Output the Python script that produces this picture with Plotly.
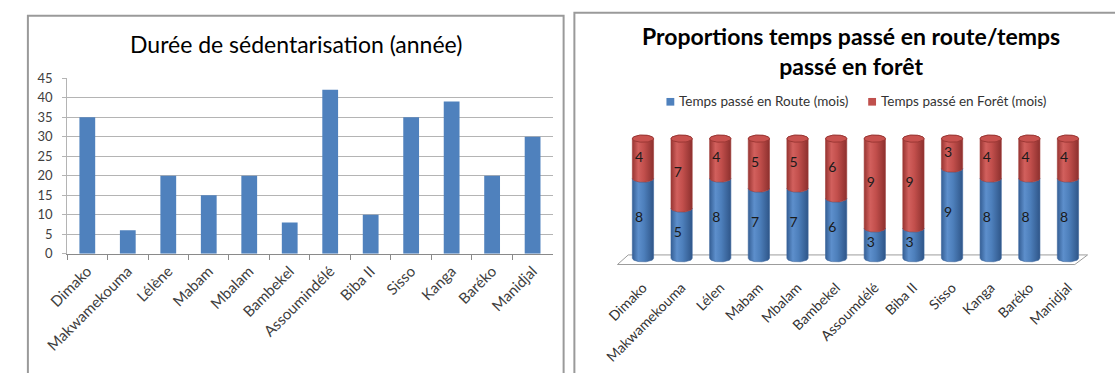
import numpy as np
import plotly.graph_objects as go

# ---- data -------------------------------------------------------------
villages_left = ["Dimako", "Makwamekouma", "Lélène", "Mabam", "Mbalam", "Bambekel",
                 "Assoumindélé", "Biba II", "Sisso", "Kanga", "Baréko", "Manidjal"]
duree_sedentarisation = [35, 6, 20, 15, 20, 8, 42, 10, 35, 39, 20, 30]

villages_right = ["Dimako", "Makwamekouma", "Lélen", "Mabam", "Mbalam", "Bambekel",
                  "Assoumdélé", "Biba II", "Sisso", "Kanga", "Baréko", "Manidjal"]
temps_route = [8, 5, 8, 7, 7, 6, 3, 3, 9, 8, 8, 8]
temps_foret = [4, 7, 4, 5, 5, 6, 9, 9, 3, 4, 4, 4]

W, H = 1115, 373
FONT = "Lato"


def px(x):
    return x / W


def py(y):
    return 1 - y / H


fig = go.Figure()

# ---- left chart: simple bar chart ---------------------------------------
fig.add_trace(go.Bar(
    x=villages_left, y=duree_sedentarisation, width=0.39,
    marker=dict(color="#4f81bd", line=dict(width=0)),
    xaxis="x", yaxis="y", showlegend=False, hoverinfo="x+y",
))

# ---- right chart: 100 % stacked cylinders ------------------------------
RX = 0.275          # cylinder half width (x units)
RY = 3.0            # ellipse half height (y units)
blue_scale = [[0, "#355f95"], [0.28, "#5d8fcc"], [0.55, "#4d7fbb"], [1, "#2f5689"]]
red_scale = [[0, "#983532"], [0.28, "#d2605d"], [0.55, "#c24f4c"], [1, "#8d302e"]]


def arc(cx, cy, t0, t1, n=30):
    t = np.linspace(t0, t1, n)
    return cx + RX * np.cos(t), cy + RY * np.sin(t)


def add_shape_trace(xs, ys, scale, edge):
    fig.add_trace(go.Scatter(
        x=xs, y=ys, mode="lines", fill="toself",
        fillgradient=dict(type="horizontal", colorscale=scale),
        line=dict(color=edge, width=0.6),
        xaxis="x2", yaxis="y2", showlegend=False, hoverinfo="skip",
    ))


lab_x, lab_y, lab_t = [], [], []
for i, (r, f) in enumerate(zip(temps_route, temps_foret)):
    total = r + f
    b = 100.0 * r / total
    # blue part: from the base up to the split
    x1, y1 = arc(i, 0, np.pi, 2 * np.pi)
    x2, y2 = arc(i, b, 2 * np.pi, np.pi)
    add_shape_trace(np.r_[x1, x2, x1[0]], np.r_[y1, y2, y1[0]], blue_scale, "#3a659c")
    # red part: from the split up to the top
    x3, y3 = arc(i, b, np.pi, 2 * np.pi)
    x4, y4 = arc(i, 100, 0, np.pi)
    add_shape_trace(np.r_[x3, x4, x3[0]], np.r_[y3, y4, y3[0]], red_scale, "#a03c39")
    # top face
    x5, y5 = arc(i, 100, 0, 2 * np.pi, 50)
    fig.add_trace(go.Scatter(
        x=x5, y=y5, mode="lines", fill="toself", fillcolor="#c8524f",
        line=dict(color="#9b3734", width=1),
        xaxis="x2", yaxis="y2", showlegend=False, hoverinfo="skip",
    ))
    lab_x += [i - 0.1, i - 0.1]
    lab_y += [b / 2, (b + 100) / 2]
    lab_t += [str(r), str(f)]

fig.add_trace(go.Scatter(
    x=lab_x, y=lab_y, text=lab_t, mode="text",
    textfont=dict(family=FONT, size=14, color="#1a1a1a"),
    xaxis="x2", yaxis="y2", showlegend=False, hoverinfo="skip",
))

# ---- decorations --------------------------------------------------------
shapes = [
    # chart frames
    dict(type="rect", xref="paper", yref="paper", x0=px(5), x1=px(552), y0=-0.05, y1=py(8),
         line=dict(color="#9a9a9a", width=2), layer="below"),
    dict(type="rect", xref="paper", yref="paper", x0=px(563), x1=1.05, y0=-0.05, y1=py(5),
         line=dict(color="#9a9a9a", width=2), layer="below"),
    # floor of the 3D chart
    dict(type="path", xref="paper", yref="paper",
         path=f"M {px(607)} {py(268)} L {px(618)} {py(258)} L {px(1087)} {py(258)} "
              f"L {px(1074)} {py(268)} Z",
         line=dict(color="#9c9c9c", width=1), fillcolor="white", layer="below"),
    # legend keys
    dict(type="rect", xref="paper", yref="paper", x0=px(657), x1=px(665), y0=py(102), y1=py(94),
         fillcolor="#4f81bd", line=dict(width=0)),
    dict(type="rect", xref="paper", yref="paper", x0=px(863), x1=px(871), y0=py(102), y1=py(94),
         fillcolor="#c0504d", line=dict(width=0)),
]

annotations = [
    dict(text="Durée de sédentarisation (année)", x=px(279), y=py(38), xref="paper", yref="paper",
         showarrow=False, xanchor="center", yanchor="middle",
         font=dict(family=FONT, size=23, color="#000000")),
    dict(text="<b>Proportions temps passé en route/temps<br>passé en forêt</b>",
         x=px(845), y=py(45), xref="paper", yref="paper",
         showarrow=False, xanchor="center", yanchor="middle",
         font=dict(family=FONT, size=23, color="#000000")),
    dict(text="Temps passé en Route (mois)", x=px(668), y=py(97), xref="paper", yref="paper",
         showarrow=False, xanchor="left", yanchor="middle",
         font=dict(family=FONT, size=13.5, color="#333333")),
    dict(text="Temps passé en Forêt (mois)", x=px(874), y=py(97), xref="paper", yref="paper",
         showarrow=False, xanchor="left", yanchor="middle",
         font=dict(family=FONT, size=13.5, color="#333333")),
]

fig.update_layout(
    width=W, height=H, margin=dict(l=0, r=0, t=0, b=0),
    paper_bgcolor="white", plot_bgcolor="rgba(0,0,0,0)",
    font=dict(family=FONT), showlegend=False, barmode="overlay",
    shapes=shapes, annotations=annotations,
    xaxis=dict(
        domain=[px(45), px(541)], type="category", tickson="boundaries",
        ticks="outside", ticklen=5, tickcolor="#8a8a8a", showline=True, linecolor="#8a8a8a",
        tickangle=-45, tickfont=dict(family=FONT, size=15, color="#404040"),
        showgrid=False, anchor="y", ticklabelstandoff=2,
    ),
    yaxis=dict(
        domain=[py(256.7), py(73.3)], range=[0, 45], dtick=5,
        gridcolor="#b4b4b4", gridwidth=1, showline=True, linecolor="#b4b4b4",
        ticks="outside", ticklen=4, tickcolor="#b4b4b4", zeroline=False,
        tickfont=dict(family=FONT, size=13, color="#404040"), ticklabelstandoff=7,
        anchor="x",
    ),
    xaxis2=dict(
        domain=[px(613.3), px(1086.7)], range=[-0.5, 11.5],
        tickvals=list(range(len(villages_right))), ticktext=villages_right,
        tickangle=-45, tickfont=dict(family=FONT, size=14, color="#333333"),
        showline=False, ticks="", showgrid=False, zeroline=False, anchor="y2",
        ticklabelstandoff=8,
    ),
    yaxis2=dict(
        domain=[py(271.5), py(131.5)], range=[-8, 104], visible=False, anchor="x2",
    ),
)

fig.write_html("out.html")
